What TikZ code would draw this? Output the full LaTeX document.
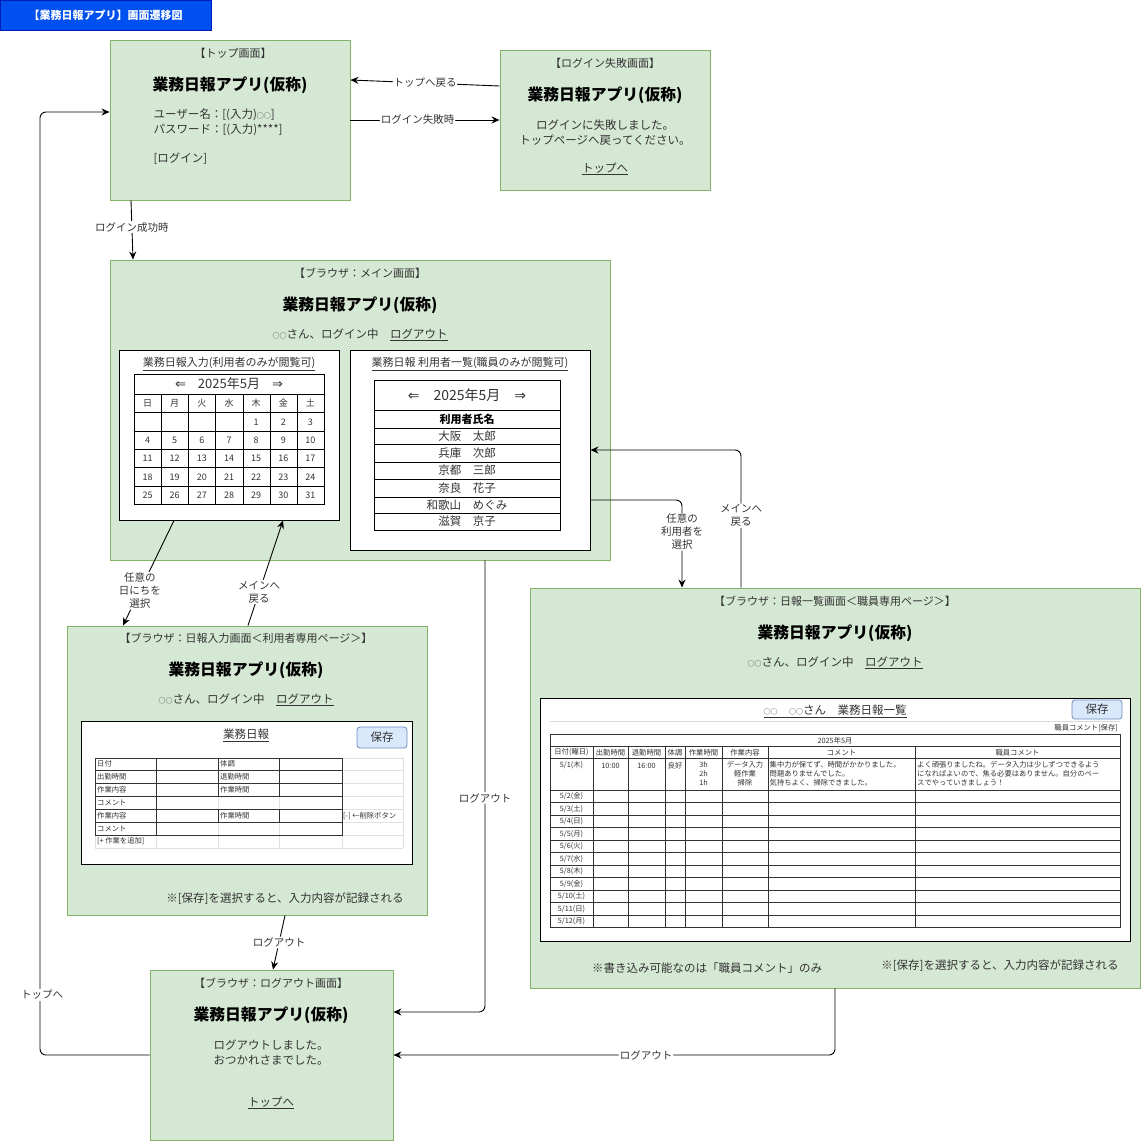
\documentclass[tikz,border=0pt]{standalone}
\usepackage{fontspec}
\setmainfont{Noto Sans CJK JP}
\newfontfamily\symfont{DejaVu Sans}
\usetikzlibrary{arrows.meta}

\definecolor{scrfill}{HTML}{D5E8D4}
\definecolor{scrline}{HTML}{82B366}
\definecolor{btnfill}{HTML}{DAE8FC}
\definecolor{btnline}{HTML}{6C8EBF}
\definecolor{headfill}{HTML}{0050EF}
\definecolor{headline}{HTML}{001DBC}
\definecolor{txt}{HTML}{333333}

% small circle mark used for names
\newcommand\maru{{\fontsize{7}{8}\selectfont ○○}}

\tikzset{
  screen/.style={draw=scrline, fill=scrfill, line width=0.9pt, inner sep=0pt},
  panel/.style={draw=black, fill=white, line width=1pt, inner sep=0pt},
  flow/.style={draw=black, line width=0.9pt, -{Stealth[length=8pt,width=7pt]}, rounded corners=6pt},
  flowlbl/.style={fill=white, inner sep=1pt, text=txt, align=center, font=\fontsize{10.5}{13}\selectfont},
  caption/.style={text=txt, font=\fontsize{11}{13}\selectfont},
  apptitle/.style={font=\bfseries\fontsize{15.8}{18}\selectfont},
  body/.style={text=txt, align=center, font=\fontsize{11.5}{15}\selectfont},
  cell/.style={text=txt, inner sep=0pt, font=\fontsize{9}{10}\selectfont},
  tiny/.style={text=txt, inner sep=0pt, font=\fontsize{7.3}{9}\selectfont},
  btn/.style={draw=btnline, fill=btnfill, rounded corners=3pt, line width=0.8pt, inner sep=0pt, text=txt, font=\fontsize{11.5}{12}\selectfont}
}

\begin{document}
\begin{tikzpicture}[x=1pt,y=-1pt]
\useasboundingbox (0,0) rectangle (1141,1141);

% heading
\node[draw=headline, fill=headfill, minimum width=211, minimum height=30, inner sep=0pt, text=white, font=\bfseries\fontsize{11}{12}\selectfont] (head) at (105.5,15) {【業務日報アプリ】画面遷移図};

% top screen
\node[screen, minimum width=240, minimum height=160] (top) at (230,120) {};
\node[caption] (toplbl) at (233,53) {【トップ画面】};
\node[apptitle] (toptitle) at (230,85) {業務日報アプリ(仮称)};
\node[body, anchor=west, align=left] (topform) at (150,122.5) {ユーザー名：[(入力)\maru]\\パスワード：[(入力)****]};
\node[body, anchor=west] (topbtn) at (150,159) {[ログイン]};

% login failed
\node[screen, minimum width=210, minimum height=140] (fail) at (605,120) {};
\node[caption] (faillbl) at (605,63) {【ログイン失敗画面】};
\node[apptitle] (failtitle) at (605,95) {業務日報アプリ(仮称)};
\node[body] (failmsg) at (605,132.5) {ログインに失敗しました。\\トップページへ戻ってください。};
\node[body] (faillink) at (605,169) {\underline{トップへ}};

% main screen
\node[screen, minimum width=500, minimum height=300] (main) at (360,410) {};
\node[caption] (mainlbl) at (360,273) {【ブラウザ：メイン画面】};
\node[apptitle] (maintitle) at (360,305) {業務日報アプリ(仮称)};
\node[body] (mainuser) at (360,335) {\maru さん、ログイン中　\underline{ログアウト}};

% calendar
\node[panel, minimum width=220, minimum height=170] (calbox) at (229,435) {};
\node[caption] (calhead) at (229,364) {\underline{業務日報入力(利用者のみが閲覧可)}};
\draw[line width=0.8pt] (134,374) rectangle (324,504);
\foreach \y in {394,412,431,449,467,486} \draw[line width=0.8pt] (134,\y) -- (324,\y);
\foreach \x in {161,188,215.5,243.5,270.5,297.5} \draw[line width=0.8pt] (\x,394) -- (\x,504);
\node[text=txt, font=\fontsize{13}{14}\selectfont] (calmonth) at (229,384) {{\symfont ⇐}\hspace{12pt}2025年5月\hspace{12pt}{\symfont ⇒}};
\foreach \w [count=\i from 0] in {日,月,火,水,木,金,土}
  \node[cell] (dow\i) at (147.6+27.14*\i,403) {\w};
\foreach \d in {1,...,31} {
  \pgfmathtruncatemacro{\rw}{floor((\d+3.5)/7)}
  \pgfmathtruncatemacro{\cl}{\d+3-7*\rw}
  \node[cell] (day\d) at (147.6+27.14*\cl,421.8+18.4*\rw) {\d};
}

% user list
\node[panel, minimum width=240, minimum height=200] (userbox) at (470,450) {};
\node[caption] (userhead) at (470,364) {\underline{業務日報 利用者一覧(職員のみが閲覧可)}};
\draw[line width=0.8pt] (374,380) rectangle (560,530);
\foreach \y in {410,428,444,462,479,497,513} \draw[line width=0.8pt] (374,\y) -- (560,\y);
\node[text=txt, font=\fontsize{14}{15}\selectfont] (usermonth) at (467,395) {{\symfont ⇐}\hspace{14pt}2025年5月\hspace{14pt}{\symfont ⇒}};
\node[font=\bfseries\fontsize{11}{12}\selectfont] (userhdr) at (467,419) {利用者氏名};
\foreach \n/\y in {大阪　太郎/436, 兵庫　次郎/453, 京都　三郎/470.5, 奈良　花子/488, 和歌山　めぐみ/505, 滋賀　京子/521.5}
  \node[caption, font=\fontsize{11.5}{13}\selectfont] (user\y) at (467,\y) {\n};

% entry screen
\node[screen, minimum width=360, minimum height=289] (entry) at (247,770.5) {};
\node[caption] (entrylbl) at (246,638) {【ブラウザ：日報入力画面＜利用者専用ページ＞】};
\node[apptitle] (entrytitle) at (246,670) {業務日報アプリ(仮称)};
\node[body] (entryuser) at (246,700) {\maru さん、ログイン中　\underline{ログアウト}};
\node[panel, minimum width=331, minimum height=143] (formbox) at (246.5,792.5) {};
\node[body] (formhead) at (246,735) {\underline{業務日報}};
\node[btn, minimum width=50, minimum height=21] (formsave) at (382,737.5) {保存};
\foreach \y in {757.7,770,783.3,796,809.3,822,835,847.7} \draw[black!12] (95.3,\y) -- (402.7,\y);
\foreach \x in {95.3,156.3,218.3,279.3,341.7,402.7} \draw[black!12] (\x,757.7) -- (\x,847.7);
\draw[black!80] (95.3,757.7) rectangle (341.7,835);
\foreach \y in {770,783.3,796,809.3,822} \draw[black!80] (95.3,\y) -- (341.7,\y);
\draw[black!80] (156.3,757.7) -- (156.3,835);
\foreach \x in {218.3,279.3} \draw[black!80] (\x,757.7) -- (\x,796) (\x,809.3) -- (\x,822);
\foreach \t/\y [count=\i] in {日付/764, 出勤時間/776.7, 作業内容/789.7, コメント/802.7, 作業内容/815.7, コメント/828.5, {[+ 作業を追加]}/841.3}
  \node[tiny, anchor=west] (forml\i) at (97,\y) {\t};
\foreach \t/\y [count=\i] in {体調/764, 退勤時間/776.7, 作業時間/789.7, 作業時間/815.7}
  \node[tiny, anchor=west] (formr\i) at (220,\y) {\t};
\node[tiny, anchor=west] (formdel) at (343,815.7) {[-] ←削除ボタン};
\node[body] (entrynote) at (285,899) {※[保存]を選択すると、入力内容が記録される};

% logout screen
\node[screen, minimum width=243, minimum height=170] (logout) at (271.5,1055) {};
\node[caption] (logoutlbl) at (271,983) {【ブラウザ：ログアウト画面】};
\node[apptitle] (logouttitle) at (271,1015) {業務日報アプリ(仮称)};
\node[body] (logoutmsg) at (271,1052.5) {ログアウトしました。\\おつかれさまでした。};
\node[body] (logoutlink) at (271,1103) {\underline{トップへ}};

% list screen
\node[screen, minimum width=610, minimum height=400] (list) at (835,788) {};
\node[caption] (listlbl) at (835,601) {【ブラウザ：日報一覧画面＜職員専用ページ＞】};
\node[apptitle] (listtitle) at (835,633) {業務日報アプリ(仮称)};
\node[body] (listuser) at (835,663) {\maru さん、ログイン中　\underline{ログアウト}};
\node[panel, minimum width=590, minimum height=243] (tablebox) at (835,819.5) {};
\node[body] (tablehead) at (835,711) {\underline{\maru 　\maru さん　業務日報一覧}};
\node[btn, minimum width=50, minimum height=19] (tablesave) at (1097,709.5) {保存};
\node[tiny, anchor=east] (tablenote) at (1118,728) {職員コメント[保存]};
\draw[black!15] (550,721) -- (1120,721);
\draw[black!80] (550,734) rectangle (1120,927.5);
\foreach \y in {746.5,758,790,802.5,815,827.5,840,852.5,865,877.5,890,902.5,915} \draw[black!80] (550,\y) -- (1120,\y);
\foreach \x in {593,628,665,685,722,768,915} \draw[black!80] (\x,746.5) -- (\x,927.5);
\node[tiny] (tblmonth) at (835,740.5) {2025年5月};
\foreach \t/\x [count=\i] in {日付(曜日)/571.5, 出勤時間/610.5, 退勤時間/646.5, 体調/675, 作業時間/703.5, 作業内容/745, コメント/841.5, 職員コメント/1017.5}
  \node[tiny] (tblhd\i) at (\x,752.3) {\t};
\node[tiny] (tbldate1) at (571.5,765.5) {5/1(木)};
\node[tiny] (tblin) at (610.5,765.5) {10:00};
\node[tiny] (tblout) at (646.5,765.5) {16:00};
\node[tiny] (tblcond) at (675,765.5) {良好};
\node[tiny, align=center, anchor=north] (tblhours) at (703.5,761.5) {3h\\2h\\1h};
\node[tiny, align=center, anchor=north] (tbltasks) at (745,761.5) {データ入力\\軽作業\\掃除};
\node[tiny, align=left, anchor=north west] (tblcomment) at (769.5,761.5) {集中力が保てず、時間がかかりました。\\問題ありませんでした。\\気持ちよく、掃除できました。};
\node[tiny, align=left, anchor=north west] (tblstaff) at (917,761.5) {よく頑張りましたね。データ入力は少しずつできるよう\\になればよいので、焦る必要はありません。自分のペー\\スでやっていきましょう！};
\foreach \t [count=\i from 0] in {5/2(金),5/3(土),5/4(日),5/5(月),5/6(火),5/7(水),5/8(木),5/9(金),5/10(土),5/11(日),5/12(月)}
  \node[tiny] (tbldate\i x) at (571.5,796.25+12.5*\i) {\t};
\node[body] (listnote1) at (707,968) {※書き込み可能なのは「職員コメント」のみ};
\node[body] (listnote2) at (1000,966) {※[保存]を選択すると、入力内容が記録される};

% connectors
\coordinate (leftrail) at (40,600);
\draw[flow] (fail.west |- 0,86) -- (top.east |- 0,80) node[flowlbl, midway] (lblback) {トップへ戻る};
\draw[flow] (top.east |- 0,120) -- (fail.west |- 0,120) node[flowlbl, pos=0.45] (lblfail) {ログイン失敗時};
\draw[flow] (top.south -| 131,0) -- (main.north -| 133,0) node[flowlbl, pos=0.45] (lblok) {ログイン成功時};
\draw[flow] (calbox.south -| 174,0) -- (entry.north -| 123,0) node[flowlbl, pos=0.67] (lblday) {任意の\\日にちを\\選択};
\draw[flow] (entry.north -| 248,0) -- (calbox.south -| 283,0) node[flowlbl, pos=0.32] (lblmain1) {メインへ\\戻る};
\draw[flow] (entry.south -| 285,0) -- (logout.north -| 273,0) node[flowlbl, midway] (lblout1) {ログアウト};
\draw[flow] (logout.west |- 0,1055) -| (leftrail) |- (top.west |- 0,112);
\node[flowlbl] (lbltop) at (42,995) {トップへ};
\draw[flow] (main.south -| 485,0) |- (logout.east |- 0,1012) node[flowlbl, pos=0.263] (lblout2) {ログアウト};
\draw[flow] (list.south -| 835,0) |- (logout.east |- 0,1055) node[flowlbl, pos=0.714] (lblout3) {ログアウト};
\draw[flow] (userbox.east |- 0,500) -| (list.north -| 682,0) node[flowlbl, pos=0.682] (lbluser) {任意の\\利用者を\\選択};
\draw[flow] (list.north -| 741,0) |- (userbox.east |- 0,450) node[flowlbl, pos=0.261] (lblmain2) {メインへ\\戻る};

\end{tikzpicture}
\end{document}
